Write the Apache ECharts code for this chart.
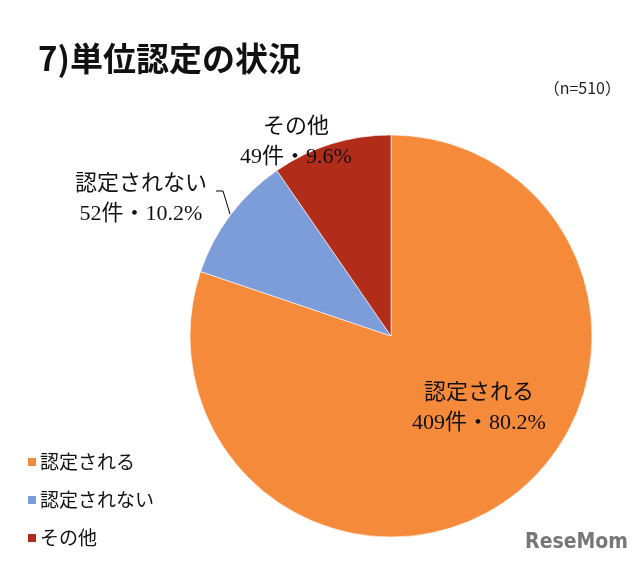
<!DOCTYPE html>
<html><head><meta charset="utf-8">
<script src="https://cdn.jsdelivr.net/npm/echarts@6/dist/echarts.min.js"></script>
<style>html,body{margin:0;padding:0;background:#fff}#c{width:640px;height:567px}</style>
</head><body><div id="c"></div>
<script>
var categories = ['認定される', '認定されない', 'その他'];
var counts = [409, 52, 49];
var colors = ['#F68A3B', '#7C9DDA', '#B22C1A'];
var titleText = '7)単位認定の状況';
var noteText = '（n=510）';

var chart = echarts.init(document.getElementById('c'));
var serif = '"Liberation Serif","Noto Sans CJK JP",serif';
var sans = '"Noto Sans CJK JP","Liberation Sans",sans-serif';
var labelPos = [
  {x: 479, y: 408},
  {x: 141, y: 199},
  {x: 296, y: 142}
];
chart.setOption({
  animation: false,
  color: colors,
  title: [
    {text: titleText, left: 33, top: 37, textStyle: {fontFamily: sans, fontWeight: 'bold', fontSize: 33, color: '#111'}},
    {text: noteText, right: 14, top: 75, textStyle: {fontFamily: sans, fontWeight: 'normal', fontSize: 16, color: '#222'}}
  ],
  legend: {
    orient: 'vertical', left: 21, top: 446, itemWidth: 10, itemHeight: 10, itemGap: 16, icon: 'rect',
    textStyle: {fontFamily: sans, fontSize: 19, lineHeight: 22, color: '#111', padding: [0,0,0,-2]}
  },
  graphic: [{type: 'text', right: 12, top: 532, style: {text: 'ReseMom', fill: '#777', font: 'bold 21px "DejaVu Sans Condensed","Liberation Sans",sans-serif'}}],
  series: [{
    type: 'pie',
    center: [391, 336],
    radius: [0, 201],
    startAngle: 90,
    clockwise: true,
    percentPrecision: 1,
    itemStyle: {borderColor: '#fff', borderWidth: 0.6},
    label: {
      show: true,
      formatter: '{b}\n{c}件・{d}%',
      fontFamily: serif, fontSize: 22, lineHeight: 30, color: '#111', align: 'center',
      overflow: 'none', width: 220
    },
    labelLine: {show: true, length: 10, length2: 8, lineStyle: {color: '#000', width: 1}},
    labelLayout: function (p) {
      var i = p.dataIndex;
      var o = {x: labelPos[i].x, y: labelPos[i].y, align: 'center', verticalAlign: 'middle'};
      if (i === 1) o.labelLinePoints = [[230, 214], [223, 191], [216, 191]];
      return o;
    },
    data: categories.map(function (c, i) {
      var d = {name: c, value: counts[i]};
      if (i !== 1) d.labelLine = {show: false};
      return d;
    })
  }]
});
</script></body></html>
